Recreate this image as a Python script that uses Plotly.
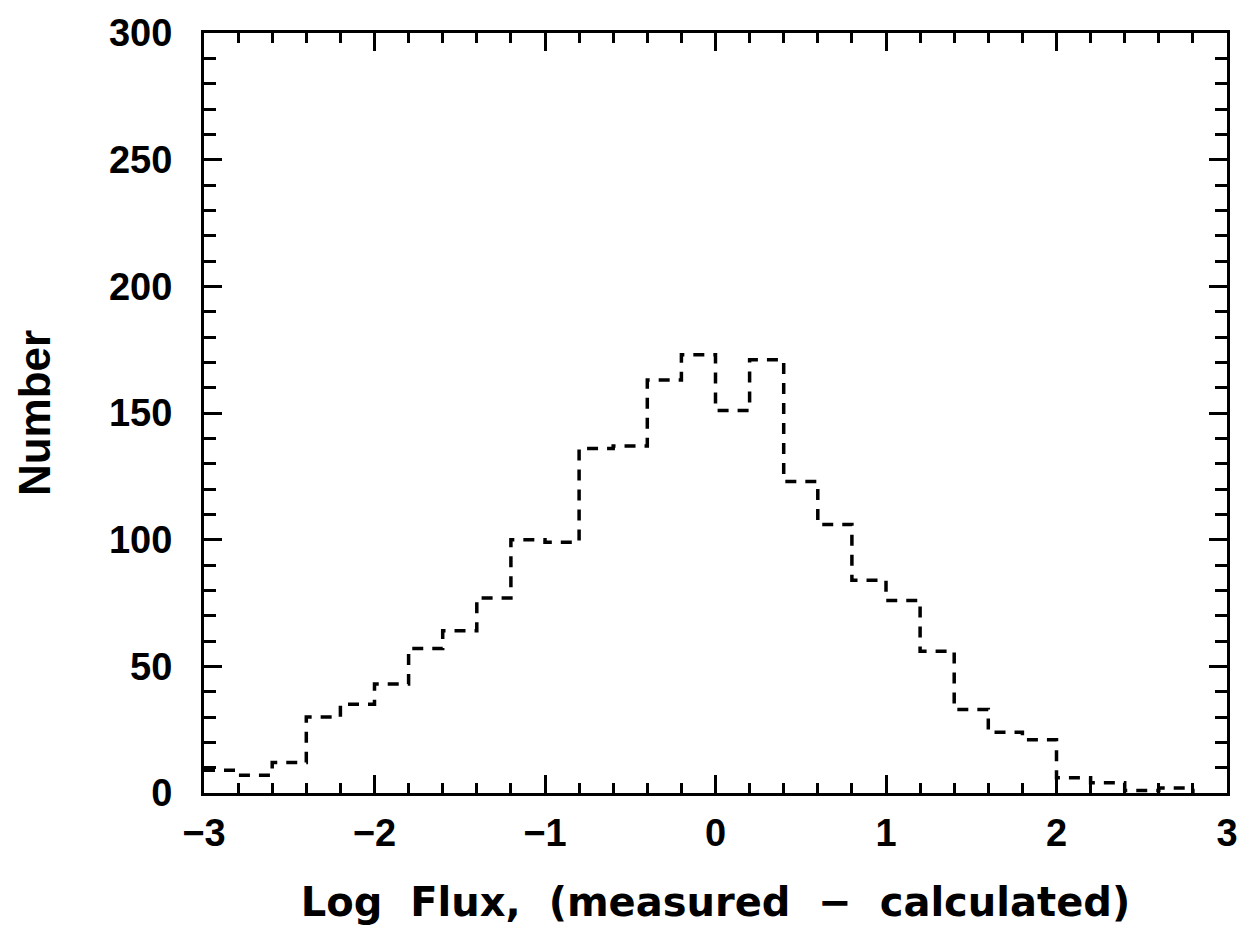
import plotly.graph_objects as go

# Histogram data (bin left edges, width 0.2)
bin_left = [-3.0, -2.8, -2.6, -2.4, -2.2, -2.0, -1.8, -1.6, -1.4, -1.2,
            -1.0, -0.8, -0.6, -0.4, -0.2, 0.0, 0.2, 0.4, 0.6, 0.8,
            1.0, 1.2, 1.4, 1.6, 1.8, 2.0, 2.2, 2.4, 2.6]
counts = [9, 7, 12, 30, 35, 43, 57, 64, 77, 100,
          99, 136, 137, 163, 173, 151, 171, 123, 106, 84,
          76, 56, 33, 24, 21, 6, 4, 1, 2]
bin_width = 0.2

x_ticks = [-3, -2, -1, 0, 1, 2, 3]
x_ticklabels = ["\u22123", "\u22122", "\u22121", "0", "1", "2", "3"]
y_ticks = [0, 50, 100, 150, 200, 250, 300]

# step outline
last_edge = round(bin_left[-1] + bin_width, 6)
xs = list(bin_left) + [last_edge, last_edge]
ys = list(counts) + [counts[-1], 0]

TICKFONT = "Liberation Sans"
TITLEFONT = "DejaVu Sans"

fig = go.Figure()
fig.add_trace(go.Scatter(
    x=xs, y=ys, mode="lines",
    line=dict(shape="hv", color="black", width=3.5, dash="11px,9px"),
    showlegend=False, hoverinfo="skip",
))

axis_common = dict(
    showline=True, linecolor="black", linewidth=3, mirror="allticks",
    ticks="inside", tickcolor="black", tickwidth=2.5, ticklen=18,
    showgrid=False, zeroline=False,
    tickfont=dict(family=TICKFONT, size=38, color="black", weight="bold"),
)

fig.update_xaxes(
    **axis_common,
    range=[-3, 3], tickvals=x_ticks, ticktext=x_ticklabels,
    minor=dict(ticks="inside", dtick=0.2, tick0=-3, ticklen=10, tickwidth=2.5,
               tickcolor="black", showgrid=False),
    ticklabelstandoff=4,
    title=dict(text="Log\u00a0\u00a0Flux,\u00a0\u00a0(measured\u00a0\u00a0\u2212\u00a0\u00a0calculated)",
               font=dict(family=TITLEFONT, size=40, color="black", weight="bold"),
               standoff=36),
)
fig.update_yaxes(
    **axis_common,
    range=[0, 300], tickvals=y_ticks,
    minor=dict(ticks="inside", dtick=10, tick0=0, ticklen=12, tickwidth=2.5,
               tickcolor="black", showgrid=False),
    ticklabelstandoff=21,
    title=dict(text="Number",
               font=dict(family=TICKFONT, size=44, color="black", weight="bold"),
               standoff=45),
)

fig.update_layout(
    width=1250, height=949,
    margin=dict(l=204, r=22, t=28, b=156),
    plot_bgcolor="white", paper_bgcolor="white",
)

fig.write_html("out.html")
